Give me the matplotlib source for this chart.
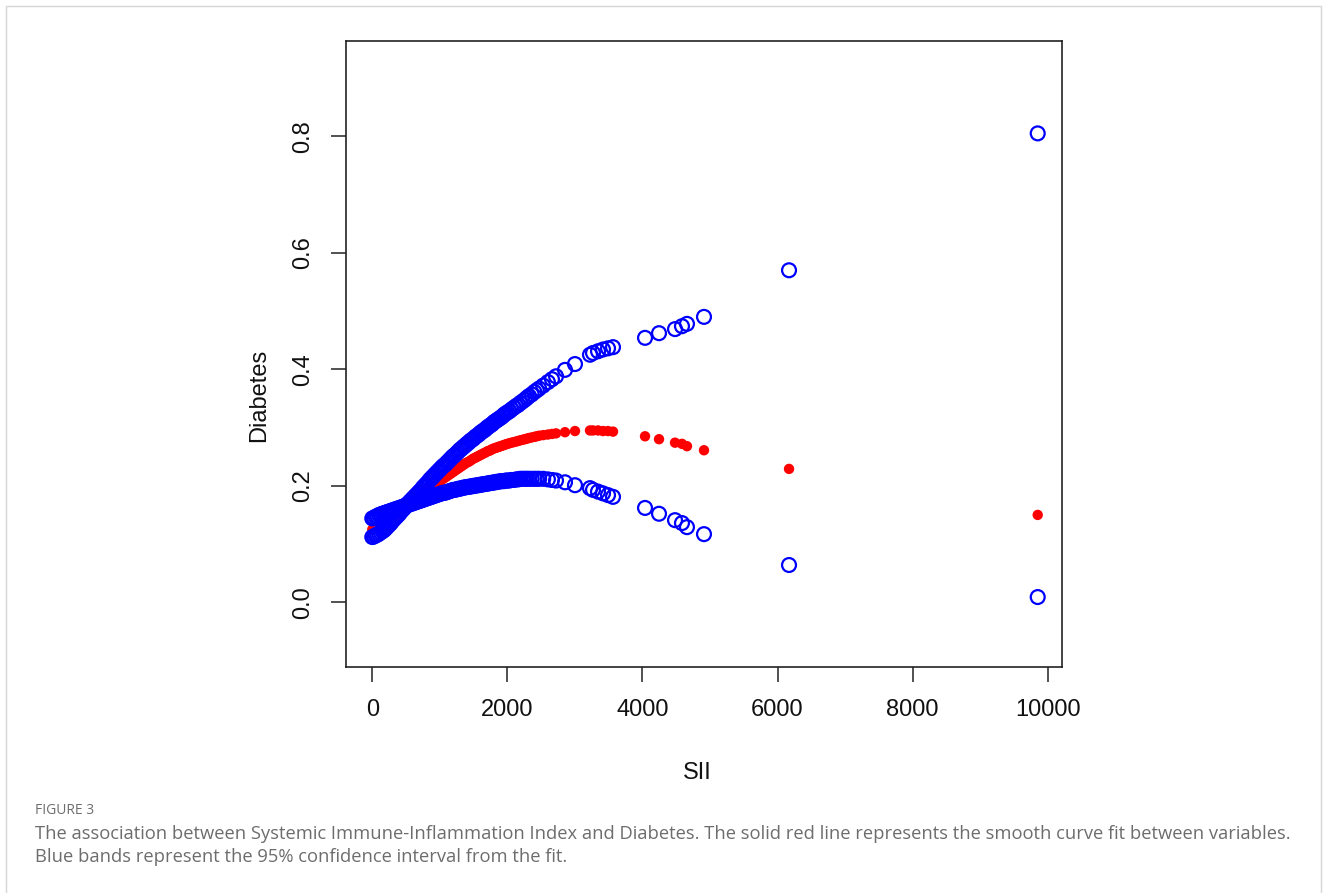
import numpy as np
import matplotlib
matplotlib.use('Agg')
import matplotlib.pyplot as plt
from matplotlib.patches import Rectangle

# SII values (x) and fitted curve / 95% CI
sii = [0, 25, 50, 75, 100, 125, 150, 175, 200, 225, 250, 275, 300, 325, 350, 375,
       400, 425, 450, 475, 500, 525, 550, 575, 600, 625, 650, 675, 700, 725, 750, 775,
       800, 825, 850, 875, 900, 925, 950, 975, 1000, 1025, 1050, 1075, 1100, 1125, 1150, 1175,
       1200, 1225, 1250, 1275, 1300, 1325, 1350, 1375, 1400, 1425, 1450, 1475, 1500, 1525, 1550, 1575,
       1600, 1625, 1650, 1675, 1700, 1725, 1750, 1775, 1800, 1825, 1850, 1875, 1900, 1925, 1950, 1975,
       2000, 2030, 2060, 2095, 2130, 2160, 2190, 2225, 2260, 2290, 2320, 2360, 2400, 2435, 2470,
       2530, 2600, 2660, 2720,
       2853, 3001, 3223, 3268, 3342, 3416, 3490, 3564,
       4038, 4245, 4482, 4585, 4659, 4911, 6170, 9852]

fit = [0.125, 0.126, 0.128, 0.129, 0.131, 0.132, 0.134, 0.136, 0.138, 0.140, 0.142, 0.144, 0.146, 0.148, 0.150, 0.152,
       0.154, 0.156, 0.158, 0.160, 0.163, 0.165, 0.167, 0.169, 0.172, 0.174, 0.176, 0.178, 0.181, 0.183, 0.185, 0.187,
       0.190, 0.192, 0.194, 0.196, 0.199, 0.201, 0.203, 0.205, 0.208, 0.210, 0.212, 0.214, 0.216, 0.218, 0.220, 0.222,
       0.224, 0.226, 0.228, 0.230, 0.232, 0.234, 0.236, 0.238, 0.240, 0.241, 0.243, 0.245, 0.247, 0.248, 0.250, 0.251,
       0.253, 0.254, 0.256, 0.257, 0.259, 0.260, 0.261, 0.263, 0.264, 0.265, 0.266, 0.267, 0.268, 0.269, 0.270, 0.271,
       0.272, 0.273, 0.274, 0.275, 0.276, 0.277, 0.278, 0.279, 0.280, 0.281, 0.282, 0.283, 0.284, 0.285, 0.286,
       0.287, 0.288, 0.289, 0.290,
       0.292, 0.294, 0.295, 0.295, 0.295, 0.294, 0.294, 0.293,
       0.285, 0.280, 0.274, 0.272, 0.268, 0.261, 0.229, 0.150]

upper = [0.112, 0.113, 0.115, 0.116, 0.118, 0.120, 0.122, 0.124, 0.127, 0.130, 0.133, 0.136, 0.140, 0.143, 0.146, 0.149,
         0.152, 0.156, 0.159, 0.162, 0.166, 0.169, 0.172, 0.175, 0.178, 0.181, 0.184, 0.187, 0.190, 0.193, 0.197, 0.200,
         0.203, 0.206, 0.210, 0.213, 0.216, 0.219, 0.222, 0.225, 0.228, 0.231, 0.234, 0.236, 0.239, 0.242, 0.245, 0.248,
         0.251, 0.253, 0.256, 0.259, 0.262, 0.264, 0.267, 0.269, 0.272, 0.274, 0.277, 0.279, 0.281, 0.284, 0.286, 0.288,
         0.291, 0.293, 0.295, 0.297, 0.300, 0.302, 0.304, 0.306, 0.309, 0.311, 0.313, 0.315, 0.317, 0.319, 0.322, 0.324,
         0.326, 0.328, 0.331, 0.334, 0.337, 0.339, 0.342, 0.345, 0.348, 0.351, 0.354, 0.357, 0.361, 0.364, 0.367,
         0.372, 0.378, 0.383, 0.388,
         0.399, 0.409, 0.425, 0.428, 0.431, 0.434, 0.436, 0.438,
         0.454, 0.462, 0.469, 0.474, 0.478, 0.490, 0.570, 0.805]

lower = [0.144, 0.145, 0.147, 0.148, 0.150, 0.151, 0.152, 0.153, 0.154, 0.155, 0.156, 0.157, 0.158, 0.159, 0.160, 0.161,
         0.162, 0.163, 0.164, 0.165, 0.166, 0.167, 0.168, 0.169, 0.170, 0.171, 0.172, 0.173, 0.174, 0.175, 0.176, 0.177,
         0.178, 0.179, 0.180, 0.181, 0.182, 0.183, 0.184, 0.185, 0.186, 0.187, 0.188, 0.188, 0.189, 0.190, 0.191, 0.192,
         0.193, 0.193, 0.194, 0.195, 0.195, 0.196, 0.197, 0.197, 0.198, 0.198, 0.199, 0.199, 0.200, 0.200, 0.201, 0.201,
         0.202, 0.202, 0.203, 0.203, 0.204, 0.204, 0.205, 0.205, 0.206, 0.206, 0.207, 0.207, 0.208, 0.208, 0.208, 0.209,
         0.209, 0.209, 0.210, 0.210, 0.211, 0.211, 0.212, 0.212, 0.212, 0.212, 0.212, 0.212, 0.212, 0.212, 0.212,
         0.212, 0.211, 0.210, 0.209,
         0.206, 0.201, 0.196, 0.193, 0.190, 0.187, 0.184, 0.181,
         0.162, 0.152, 0.141, 0.136, 0.129, 0.117, 0.064, 0.009]

xticks = [0, 2000, 4000, 6000, 8000, 10000]
yticks = [0.0, 0.2, 0.4, 0.6, 0.8]

caption_head = "FIGURE 3"
caption_1 = ("The association between Systemic Immune-Inflammation Index and Diabetes. "
             "The solid red line represents the smooth curve fit between variables.")
caption_2 = "Blue bands represent the 95% confidence interval from the fit."

plt.rcParams['font.family'] = ['Liberation Sans', 'DejaVu Sans']

W, H = 1328, 893
fig = plt.figure(figsize=(W / 100, H / 100), dpi=100)

# axes box in pixel coords from the reference
L, R, T, B = 346, 1062.3, 41, 667.3
ax = fig.add_axes([L / W, 1 - B / H, (R - L) / W, (B - T) / H])

ax.scatter(sii, fit, s=56, color='#ff0000', edgecolors='none', zorder=2)
ax.scatter(sii, lower, s=100, facecolors='none', edgecolors='#0000ff', linewidths=1.6, zorder=3)
ax.scatter(sii, upper, s=100, facecolors='none', edgecolors='#0000ff', linewidths=1.6, zorder=3)

ax.set_xlim(-389.4, 10216)
ax.set_ylim(-0.1116, 0.9636)
ax.set_xticks(xticks)
ax.set_xticklabels([str(v) for v in xticks])
ax.set_yticks(yticks)
ax.set_yticklabels(['%.1f' % v for v in yticks], rotation=90, va='center')
ax.tick_params(axis='both', length=10.8, width=1.1, color='#222222',
               labelsize=17, labelcolor='#111111', pad=12)
for sp in ax.spines.values():
    sp.set_linewidth(1.2)
    sp.set_color('#222222')

fig.text(259 / W, 1 - 395 / H, 'Diabetes', rotation=90, ha='center', va='center',
         fontsize=17, color='#111111')
fig.text(697 / W, 1 - 773 / H, 'SII', ha='center', va='center', fontsize=17, color='#111111')

# caption
capfont = ['Open Sans', 'DejaVu Sans']
fig.text(35 / W, 1 - 811 / H, caption_head, ha='left', va='center', fontsize=10,
         color='#6d6d6d', family=capfont)
fig.text(35 / W, 1 - 834 / H, caption_1, ha='left', va='center', fontsize=13.2,
         color='#6d6d6d', family=capfont)
fig.text(35 / W, 1 - 857 / H, caption_2, ha='left', va='center', fontsize=13.2,
         color='#6d6d6d', family=capfont)

# light frame around the whole figure
fig.patches.append(Rectangle((6 / W, -0.01), (1321 - 6) / W, 1 - 6 / H + 0.01,
                             transform=fig.transFigure, fill=False,
                             edgecolor='#d6d6d6', linewidth=1.0))

fig.savefig('out.png', dpi=100)
